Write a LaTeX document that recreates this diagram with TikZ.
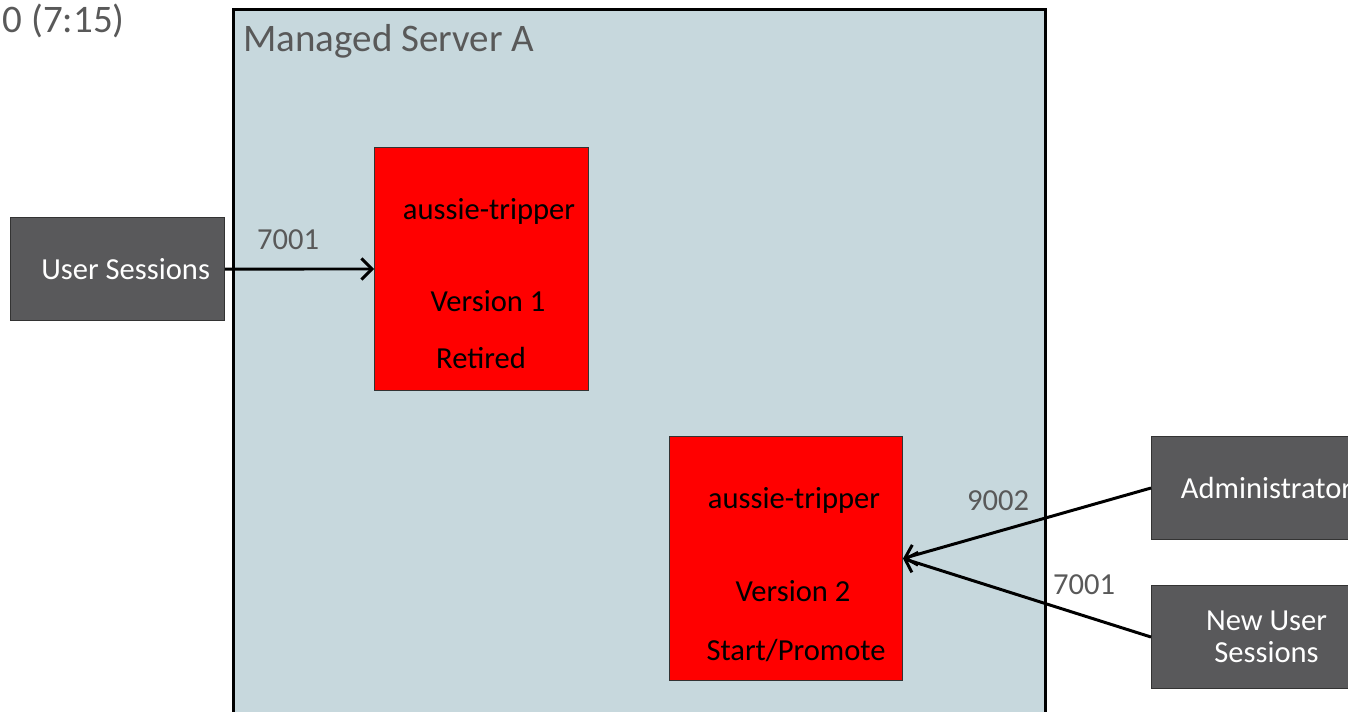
\documentclass[tikz,border=0pt]{standalone}
\usepackage{fontspec}
\setmainfont{Carlito}
\usepackage{tikz}
\usetikzlibrary{arrows.meta, positioning}
\definecolor{ServerColor}{RGB}{199,216,221}
\definecolor{ClientColor}{RGB}{89,89,91}
\definecolor{LabelColor}{RGB}{89,89,89}
\definecolor{AppColor}{RGB}{255,0,0}
\tikzstyle{server} = [draw=black, line width=1.7pt, fill=ServerColor, anchor=north west, inner sep=0pt, minimum width=16.24cm, minimum height=15cm]
\tikzstyle{client} = [draw=black!80, line width=0.6pt, fill=ClientColor, text=white, align=center, anchor=north west, inner sep=0pt, minimum height=2.06cm, font=\fontsize{17.4}{18.4}\selectfont]
\tikzstyle{app} = [draw=black!80, line width=0.6pt, fill=AppColor, anchor=north west, inner sep=0pt]
\tikzstyle{apptext} = [anchor=base, inner sep=0pt, font=\fontsize{17.4}{21}\selectfont]
\tikzstyle{port} = [anchor=base, inner sep=0pt, text=LabelColor, font=\fontsize{17.4}{21}\selectfont]
\tikzstyle{title} = [inner sep=0pt, text=LabelColor, font=\fontsize{22.2}{26}\selectfont]
\tikzstyle{arrow} = [line width=1.7pt, -{Straight Barb[length=6pt, width=12pt]}]

\begin{document}
\begin{tikzpicture}[x=0.02cm, y=-0.02cm]
    \useasboundingbox (0,0) rectangle (1348,712);
    \clip (0,0) rectangle (1348,712);

    \node[title, anchor=base east] (clock) at (125,33) {0 (7:15)};

    \node[server] (srv) at (232,8) {};
    \node[title, anchor=base west] (srvname) at (243,52) {Managed Server A};

    % old version
    \node[app, minimum width=4.28cm, minimum height=4.86cm] (app1) at (374,147) {};
    \node[apptext] (app1name) at (489,220) {aussie-tripper};
    \node[apptext] (app1ver) at (488,312) {Version 1};
    \node[apptext] (app1state) at (481,369) {Retired};

    % new version
    \node[app, minimum width=4.66cm, minimum height=4.88cm] (app2) at (669,436) {};
    \node[apptext] (app2name) at (794,508) {aussie-tripper};
    \node[apptext] (app2ver) at (793,601) {Version 2};
    \node[apptext] (app2state) at (796,660) {Start/Promote};

    \node[client, minimum width=4.28cm, text width=3.7cm, align=flush right] (users) at (10,217) {User Sessions};
    \node[client, minimum width=4.6cm] (admin) at (1151,436) {Administrator};
    \node[client, minimum width=4.6cm] (newusers) at (1151,585) {New User\\Sessions};

    \draw[arrow] (users.east) -- (app1.west);
    \draw[arrow] (admin.west) -- (app2.east);
    \draw[arrow] (newusers.west) -- (app2.east);

    \node[port] (p1) at (288,250) {7001};
    \node[port] (p2) at (998,510) {9002};
    \node[port] (p3) at (1084,594) {7001};
\end{tikzpicture}
\end{document}
